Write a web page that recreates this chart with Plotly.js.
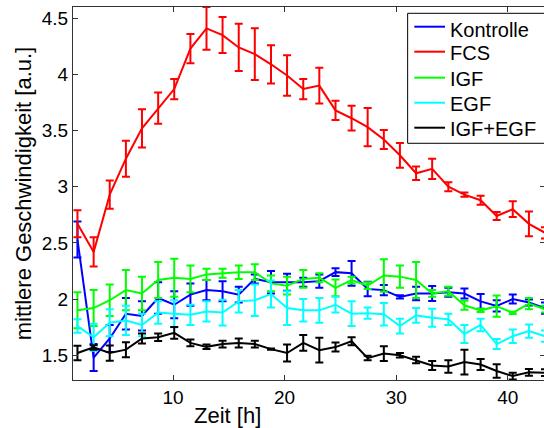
<!DOCTYPE html>
<html>
<head>
<meta charset="utf-8">
<script src="https://cdn.plot.ly/plotly-3.0.1.min.js"></script>
<style>
html, body { margin: 0; padding: 0; overflow: hidden; background: #fff; }
#chart { width: 548px; height: 428px; }
</style>
</head>
<body>
<div id="chart"></div>
<script>
// Time points [h]
const zeit = [1.44, 2.89, 4.33, 5.78, 7.22, 8.67, 10.11, 11.56, 13.00, 14.44,
              15.89, 17.33, 18.78, 20.22, 21.67, 23.11, 24.56, 26.00, 27.44, 28.89,
              30.33, 31.78, 33.22, 34.67, 36.11, 37.56, 39.00, 40.44, 41.89, 43.33];

const seriesNames = ["Kontrolle", "FCS", "IGF", "EGF", "IGF+EGF"];

const kontrolle = [2.53, 1.48, 1.65, 1.87, 1.85, 2.01, 1.95, 2.04, 2.08, 2.07,
                   2.04, 2.18, 2.15, 2.15, 2.15, 2.16, 2.24, 2.23, 2.09, 2.08,
                   2.02, 2.05, 2.05, 2.06, 2.05, 1.98, 1.94, 2.00, 1.97, 1.92];
const kontrolleErr = [0.16, 0.12, 0.12, 0.14, 0.13, 0.14, 0.12, 0.10, 0.09, 0.09,
                      0.07, 0.04, 0.10, 0.075, 0.04, 0.06, 0.035, 0.11, 0.065, 0.045,
                      0.015, 0.06, 0.067, 0.04, 0.045, 0.065, 0.05, 0.04, 0.027, 0.05];

const fcs = [2.67, 2.42, 2.93, 3.25, 3.52, 3.70, 3.87, 4.23, 4.41, 4.35,
             4.24, 4.18, 4.09, 3.99, 3.87, 3.90, 3.68, 3.61, 3.53, 3.42,
             3.28, 3.12, 3.16, 3.00, 2.93, 2.88, 2.74, 2.80, 2.67, 2.59];
const fcsErr = [0.12, 0.13, 0.125, 0.16, 0.17, 0.14, 0.09, 0.13, 0.19, 0.16,
                0.21, 0.23, 0.17, 0.18, 0.09, 0.16, 0.085, 0.11, 0.17, 0.085,
                0.11, 0.06, 0.09, 0.04, 0.02, 0.04, 0.035, 0.07, 0.11, 0.05];

const igf = [1.90, 1.92, 1.99, 2.08, 2.05, 2.17, 2.19, 2.18, 2.22, 2.23,
             2.24, 2.24, 2.14, 2.12, 2.18, 2.19, 2.10, 2.17, 2.12, 2.21,
             2.20, 2.17, 2.05, 2.07, 1.945, 1.90, 1.937, 1.878, 1.96, 1.91];
const igfErr = [0.16, 0.16, 0.14, 0.18, 0.15, 0.16, 0.17, 0.12, 0.05, 0.04,
                0.06, 0.07, 0.07, 0.08, 0.08, 0.04, 0.075, 0.03, 0.03, 0.145,
                0.10, 0.16, 0.03, 0.04, 0.04, 0.015, 0.095, 0.01, 0.05, 0.03];

const egf = [1.76, 1.66, 1.79, 1.81, 1.77, 1.88, 1.87, 1.86, 1.89, 1.88,
             1.98, 1.99, 2.045, 1.92, 1.90, 1.90, 1.95, 1.87, 1.875, 1.865,
             1.76, 1.855, 1.835, 1.82, 1.69, 1.77, 1.60, 1.67, 1.715, 1.67];
const egfErr = [0.06, 0.12, 0.12, 0.13, 0.10, 0.10, 0.12, 0.09, 0.09, 0.115,
                0.10, 0.14, 0.12, 0.15, 0.10, 0.11, 0.07, 0.11, 0.05, 0.10,
                0.065, 0.065, 0.08, 0.05, 0.08, 0.055, 0.045, 0.06, 0.06, 0.05];

const igfEgf = [1.52, 1.57, 1.52, 1.55, 1.65, 1.66, 1.70, 1.61, 1.575, 1.60,
                1.61, 1.60, 1.555, 1.52, 1.61, 1.545, 1.573, 1.625, 1.475, 1.515,
                1.50, 1.458, 1.41, 1.40, 1.44, 1.418, 1.36, 1.315, 1.348, 1.345];
const igfEgfErr = [0.064, 0.02, 0.068, 0.067, 0.045, 0.033, 0.052, 0.03, 0.02, 0.03,
                   0.04, 0.03, 0.005, 0.075, 0.07, 0.11, 0.04, 0.035, 0.02, 0.065,
                   0.02, 0.03, 0.04, 0.055, 0.11, 0.05, 0.06, 0.03, 0.03, 0.03];

const xTicks = [10, 20, 30, 40];
const yTicks = [1.5, 2, 2.5, 3, 3.5, 4, 4.5];
const yTickText = ["1.5", "2", "2.5", "3", "3.5", "4", "4.5"];

const values = [kontrolle, fcs, igf, egf, igfEgf];
const errors = [kontrolleErr, fcsErr, igfErr, egfErr, igfEgfErr];
const colors = ["#0000ff", "#ff0000", "#00ff00", "#00ffff", "#000000"];

const traces = seriesNames.map((name, i) => ({
  type: "scatter",
  mode: "lines",
  name: name,
  x: zeit,
  y: values[i],
  line: { color: colors[i], width: 2 },
  error_y: { type: "data", array: errors[i], visible: true, color: colors[i], thickness: 2, width: 4 }
}));

const font = "Liberation Sans, Arial, Helvetica, sans-serif";

// Legend box (MATLAB style), placed in paper coordinates
const legX0 = 0.709, legX1 = 1.02, legY0 = 0.6346, legY1 = 0.9831;
const legLineX0 = 0.7231, legLineX1 = 0.7881, legTextX = 0.7972;
const legRowY = [0.9472, 0.8802, 0.8105, 0.7434, 0.6764];
const legTextShift = [-3, -1, -1, -1, -1.5];

const shapes = [{
  type: "rect", xref: "paper", yref: "paper", layer: "above",
  x0: legX0, x1: legX1, y0: legY0, y1: legY1,
  fillcolor: "#ffffff", line: { color: "#000000", width: 1 }
}];
const annotations = [{
  text: "Zeit [h]", xref: "paper", yref: "paper",
  x: 0.328, y: -0.094, xanchor: "center", yanchor: "middle",
  showarrow: false, font: { family: font, size: 22, color: "#000" }
}];
seriesNames.forEach((name, i) => {
  shapes.push({
    type: "line", xref: "paper", yref: "paper", layer: "above",
    x0: legLineX0, x1: legLineX1, y0: legRowY[i], y1: legRowY[i],
    line: { color: colors[i], width: 2 }
  });
  annotations.push({
    text: name, xref: "paper", yref: "paper",
    x: legTextX, y: legRowY[i], yshift: legTextShift[i], xanchor: "left", yanchor: "middle",
    showarrow: false, borderpad: 0,
    font: { family: font, size: 20, color: "#000" }
  });
});

const layout = {
  width: 548,
  height: 428,
  margin: { l: 73, r: 3, t: 7, b: 48 },
  paper_bgcolor: "#ffffff",
  plot_bgcolor: "#ffffff",
  font: { family: font, size: 19, color: "#000" },
  showlegend: false,
  xaxis: {
    range: [1.04, 43.33],
    tickvals: xTicks,
    ticktext: xTicks.map(String),
    ticks: "inside", ticklen: 5, tickcolor: "#333", tickwidth: 1,
    showline: true, linecolor: "#333", linewidth: 1, mirror: "ticks",
    showgrid: false, zeroline: false,
    tickfont: { family: font, size: 19, color: "#000" }
  },
  yaxis: {
    range: [1.28, 4.6],
    tickvals: yTicks,
    ticktext: yTickText,
    ticks: "inside", ticklen: 5, tickcolor: "#333", tickwidth: 1,
    showline: true, linecolor: "#333", linewidth: 1, mirror: "ticks",
    showgrid: false, zeroline: false,
    tickfont: { family: font, size: 19, color: "#000" },
    title: { text: "mittlere Geschwindigkeit [a.u.]", font: { family: font, size: 22, color: "#000" }, standoff: 4 }
  },
  shapes: shapes,
  annotations: annotations
};

Plotly.newPlot("chart", traces, layout, { displayModeBar: false, staticPlot: true });
</script>
</body>
</html>
